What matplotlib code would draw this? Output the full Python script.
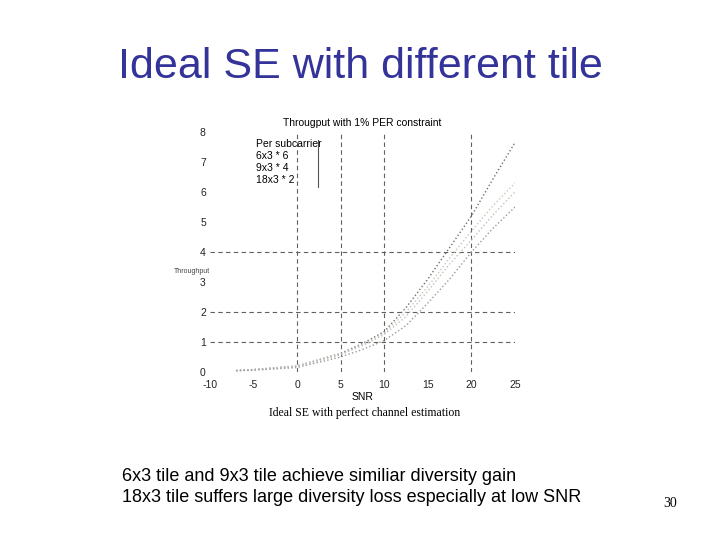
import matplotlib
matplotlib.use("Agg")
import matplotlib.pyplot as plt
from matplotlib.lines import Line2D

plt.rcParams["font.family"] = ["Liberation Sans", "DejaVu Sans"]
plt.rcParams["axes.unicode_minus"] = False

# values
snr = [-7, -5, 0, 5, 7.5, 10, 12.5, 15, 17.5, 20, 22.5, 25]
per_subcarrier = [0.05, 0.08, 0.2, 0.62, 0.95, 1.35, 2.15, 3.1, 4.15, 5.2, 6.45, 7.65]
tile_6x3 = [0.05, 0.08, 0.2, 0.6, 0.92, 1.3, 2.0, 2.85, 3.8, 4.7, 5.55, 6.3]
tile_9x3 = [0.05, 0.08, 0.19, 0.57, 0.88, 1.25, 1.85, 2.7, 3.6, 4.4, 5.25, 6.0]
tile_18x3 = [0.04, 0.06, 0.15, 0.5, 0.75, 1.05, 1.55, 2.3, 3.1, 4.0, 4.8, 5.5]

series_labels = ["Per subcarrier", "6x3 * 6", "9x3 * 4", "18x3 * 2"]
series_colors = ["#707070", "#b8d0b0", "#c0c0c0", "#9a9a9a"]

x_ticks = [-10, -5, 0, 5, 10, 15, 20, 25]
y_ticks = [0, 1, 2, 3, 4, 5, 6, 7, 8]
grid_x = [0, 5, 10, 20]
grid_y = [1, 2, 4]

fig = plt.figure(figsize=(7.2, 5.4), dpi=100)
fig.patch.set_facecolor("white")

fig.text(0.5, 0.876, "Ideal SE with different tile", ha="center", va="center",
         fontsize=31, color="#333399")

ax = fig.add_axes([0.2917, 0.3111, 0.4236, 0.4444])
for gx in grid_x:
    ax.axvline(gx, color="#606060", linestyle=(0, (4, 3)), linewidth=0.8)
for gy in grid_y:
    ax.axhline(gy, color="#606060", linestyle=(0, (4, 3)), linewidth=0.8)

all_series = [per_subcarrier, tile_6x3, tile_9x3, tile_18x3]
for ys, lab, col in zip(all_series, series_labels, series_colors):
    ax.plot(snr, ys, linestyle=":", color=col, linewidth=1.0, label=lab)

ax.set_xlim(-10, 25)
ax.set_ylim(0, 8)
ax.set_xticks(x_ticks)
ax.set_yticks(y_ticks)
ax.tick_params(length=0, labelsize=7.5, colors="#222222")
ax.tick_params(axis="y", pad=3)
ax.tick_params(axis="x", pad=6)
for s in ax.spines.values():
    s.set_visible(False)
ax.set_xlabel("SNR", fontsize=7.5, labelpad=1)
ax.set_title("Througput with 1% PER constraint", fontsize=7.5, pad=4)
ax.text(-0.06, 3.35, "Throughput", fontsize=5, color="#444444", ha="center",
        va="center", transform=ax.get_yaxis_transform())

leg = ax.legend(handlelength=0, handletextpad=0, frameon=False, fontsize=7.5,
                loc="upper left", bbox_to_anchor=(0.12, 1.01), labelspacing=0.2)
for h in leg.legend_handles:
    h.set_visible(False)
ax.add_line(Line2D([0.354, 0.354], [0.77, 0.967], transform=ax.transAxes,
                   color="#555555", linewidth=0.8))

fig.text(0.507, 0.235, "Ideal SE with perfect channel estimation", ha="center",
         va="center", fontsize=8.5, family="Liberation Serif")

fig.text(0.169, 0.098, "6x3 tile and 9x3 tile achieve similiar diversity gain\n"
         "18x3 tile suffers large diversity loss especially at low SNR",
         ha="left", va="center", fontsize=13, linespacing=1.35)
fig.text(0.921, 0.067, "30", ha="left", va="center", fontsize=10,
         family="Liberation Serif")

fig.savefig("out.png", dpi=100)
